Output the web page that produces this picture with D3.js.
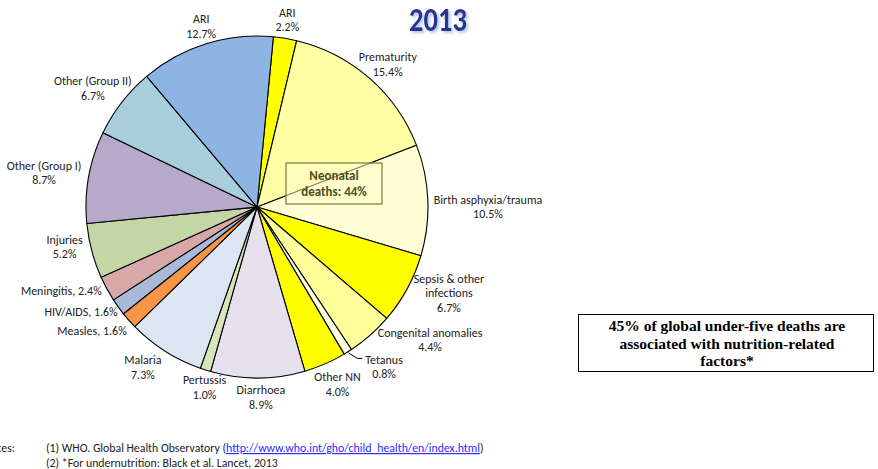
<!DOCTYPE html>
<html>
<head>
<meta charset="utf-8">
<script src="https://cdn.jsdelivr.net/npm/d3@7"></script>
<style>
  body { margin: 0; background: #fff; }
  svg { display: block; }
</style>
</head>
<body>
<svg id="chart" width="878" height="469"></svg>
<script>
(function() {

// causes, clockwise from the top
const causes = ["ARI", "Prematurity", "Birth asphyxia/trauma", "Sepsis & other infections",
    "Congenital anomalies", "Tetanus", "Other NN", "Diarrhoea", "Pertussis", "Malaria",
    "Measles", "HIV/AIDS", "Meningitis", "Injuries", "Other (Group I)", "Other (Group II)", "ARI"];
const shares = [2.2, 15.4, 10.5, 6.7, 4.4, 0.8, 4.0, 8.9, 1.0, 7.3, 1.6, 1.6, 2.4, 5.2, 8.7, 6.7, 12.7];
const sliceColors = ["#ffff00", "#ffffa6", "#ffffd6", "#ffff00", "#ffff9c", "#ffffe4", "#ffff00",
    "#e6e0ec", "#d7e4bd", "#dce6f2", "#f79646", "#a9b9da", "#d8a8a8", "#c4d6a6", "#b6a9c9", "#a9cedb", "#8eb4e3"];
// how each label is written (Excel style)
const labelLines = [
    ["ARI", "2.2%"], ["Prematurity", "15.4%"], ["Birth asphyxia/trauma", "10.5%"],
    ["Sepsis & other", "infections", "6.7%"], ["Congenital anomalies", "4.4%"], ["Tetanus", "0.8%"],
    ["Other NN", "4.0%"], ["Diarrhoea", "8.9%"], ["Pertussis", "1.0%"], ["Malaria", "7.3%"],
    ["Measles, 1.6%"], ["HIV/AIDS, 1.6%"], ["Meningitis, 2.4%"], ["Injuries", "5.2%"],
    ["Other (Group I)", "8.7%"], ["Other (Group II)", "6.7%"], ["ARI", "12.7%"]
];
const neonatalShare = 44;
const title = "2013";
const noteLines = ["45% of global under-five deaths are", "associated with nutrition-related", "factors*"];

const svg = d3.select("#chart");
const cx = 257, cy = 207, radius = 171;
const startAngle = 5.5 * Math.PI / 180;
const labelFont = "Carlito, Calibri, Lato, sans-serif";
const lineH = 14.5;

const data = causes.map((c, i) => ({ cause: c, value: shares[i], color: sliceColors[i], lines: labelLines[i] }));

const pie = d3.pie()
    .value(d => d.value)
    .sort(null)
    .startAngle(startAngle)
    .endAngle(startAngle + 2 * Math.PI);

const arc = d3.arc().innerRadius(0).outerRadius(radius);

const g = svg.append("g").attr("transform", `translate(${cx},${cy})`);

const arcs = pie(data);

g.selectAll(".slice")
    .data(arcs)
    .enter().append("path")
    .attr("class", "slice")
    .attr("d", arc)
    .attr("fill", d => d.data.color)
    .attr("stroke", "#000")
    .attr("stroke-width", 1.1)
    .attr("stroke-linejoin", "round");

// small nudges where Excel moves labels off the plain rule
const nudge = {
    0: [-1, 4], 1: [-6, 3], 2: [-2, 8], 3: [4, -10], 4: [20, -12], 5: [22, -4],
    7: [3, -3], 8: [8, -4], 9: [-8, -3], 10: [-5, 0], 11: [-1, -4], 12: [-3, -5],
    13: [-2, -10], 15: [8, 0], 16: [2, 4]
};

// labels: the box edge that faces the centre touches a circle just outside the pie
const labelR = radius + 8;
const labels = g.selectAll(".lbl")
    .data(arcs)
    .enter().append("text")
    .attr("class", "lbl")
    .attr("font-family", labelFont)
    .attr("font-size", "12px")
    .attr("fill", "#222")
    .attr("text-anchor", "middle");

labels.each(function(d, i) {
    const t = d3.select(this);
    d.data.lines.forEach((ln) => t.append("tspan").text(ln));
    let w = 0;
    t.selectAll("tspan").each(function() { w = Math.max(w, this.getComputedTextLength()); });
    const h = d.data.lines.length * lineH;
    const a = (d.startAngle + d.endAngle) / 2;
    const ax = labelR * Math.sin(a), ay = -labelR * Math.cos(a);
    const n = nudge[i] || [0, 0];
    const bx = ax + Math.sin(a) * w / 2 + n[0];
    const by = ay - Math.cos(a) * h / 2 + n[1];
    d.lx = bx; d.ly = by; d.lw = w; d.lh = h;
    t.selectAll("tspan")
        .attr("x", bx)
        .attr("y", (ln, k) => by - h / 2 + lineH * (k + 0.78));
});

// leader line for the thin tetanus slice
const tet = arcs[5];
const tetA = (tet.startAngle + tet.endAngle) / 2;
const tp = [(radius + 1) * Math.sin(tetA), -(radius + 1) * Math.cos(tetA)];
const tl = [tet.lx - tet.lw / 2 - 3, tet.ly - tet.lh / 2 + 6];
g.append("path")
    .attr("d", `M${tp[0]},${tp[1]}L${tl[0] - 5},${tl[1]}L${tl[0]},${tl[1]}`)
    .attr("fill", "none")
    .attr("stroke", "#000")
    .attr("stroke-width", 1);

// neonatal box
const nb = g.append("g").attr("transform", "translate(29,-44)");
nb.append("rect")
    .attr("width", 96).attr("height", 41)
    .attr("fill", "#ffffcc").attr("fill-opacity", 0.55)
    .attr("stroke", "#7a7a3a").attr("stroke-width", 1.2);
nb.append("text")
    .attr("x", 48).attr("y", 17)
    .attr("text-anchor", "middle")
    .attr("font-family", labelFont)
    .attr("font-weight", "bold")
    .attr("font-size", "13px")
    .attr("fill", "#4d4d1a")
    .text("Neonatal");
nb.append("text")
    .attr("x", 48).attr("y", 33)
    .attr("text-anchor", "middle")
    .attr("font-family", labelFont)
    .attr("font-weight", "bold")
    .attr("font-size", "13px")
    .attr("fill", "#4d4d1a")
    .text(`deaths: ${neonatalShare}%`);

// title
const defs = svg.append("defs");
const f = defs.append("filter").attr("id", "glow").attr("x", "-20%").attr("y", "-20%").attr("width", "140%").attr("height", "150%");
f.append("feDropShadow").attr("dx", 2).attr("dy", 2).attr("stdDeviation", 1.5).attr("flood-color", "#9fc3ea").attr("flood-opacity", 0.9);

svg.append("text")
    .attr("x", 409).attr("y", 31)
    .attr("font-family", labelFont)
    .attr("font-weight", "bold")
    .attr("font-size", "35px")
    .attr("textLength", 58)
    .attr("lengthAdjust", "spacingAndGlyphs")
    .attr("fill", "#2e3192")
    .attr("filter", "url(#glow)")
    .text(title);

// nutrition note
svg.append("rect")
    .attr("x", 578.5).attr("y", 314.5)
    .attr("width", 295).attr("height", 57)
    .attr("fill", "#fff").attr("stroke", "#000").attr("stroke-width", 1);
svg.append("text")
    .attr("font-family", "'Liberation Serif', 'Times New Roman', serif")
    .attr("font-weight", "bold")
    .attr("font-size", "15.5px")
    .attr("text-anchor", "middle")
    .selectAll("tspan")
    .data(noteLines)
    .enter().append("tspan")
    .attr("x", 727)
    .attr("y", (d, i) => 331 + i * 17.5)
    .text(d => d);

// sources
const src = svg.append("g")
    .attr("font-family", labelFont)
    .attr("font-size", "11.8px")
    .attr("fill", "#222");
src.append("text").attr("x", 15).attr("y", 452).attr("text-anchor", "end").text("Sources:");
const s1 = src.append("text").attr("x", 46).attr("y", 452);
s1.append("tspan").text("(1) WHO. Global Health Observatory (");
s1.append("tspan").attr("fill", "#2b2bff").attr("text-decoration", "underline")
    .text("http://www.who.int/gho/child_health/en/index.html");
s1.append("tspan").text(")");
src.append("text").attr("x", 46).attr("y", 467).text("(2) *For undernutrition: Black et al. Lancet, 2013");

})();
</script>
</body>
</html>
